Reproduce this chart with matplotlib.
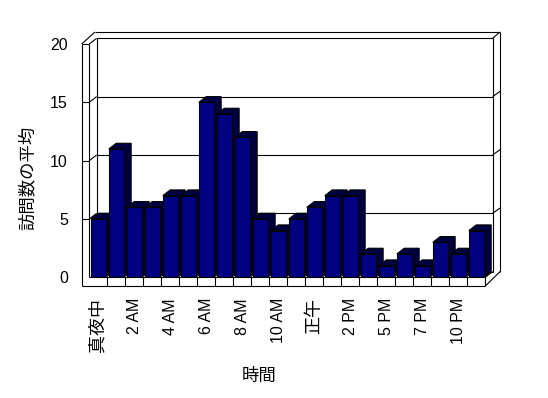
import matplotlib
matplotlib.use('Agg')
import matplotlib.pyplot as plt
from matplotlib.patches import Polygon

plt.rcParams['font.family'] = ['Liberation Sans', 'Noto Sans CJK JP']

# data
hours = ['真夜中', '1 AM', '2 AM', '3 AM', '4 AM', '5 AM', '6 AM', '7 AM', '8 AM', '9 AM',
         '10 AM', '11 AM', '正午', '1 PM', '2 PM', '3 PM', '5 PM', '6 PM', '7 PM', '8 PM',
         '10 PM', '11 PM']
visits = [5, 11, 6, 6, 7, 7, 15, 14, 12, 5, 4, 5, 6, 7, 7, 2, 1, 2, 1, 3, 2, 4]
y_ticks = [0, 5, 10, 15, 20]
x_label = '時間'
y_label = '訪問数の平均'

# 3d look (data units)
DX, DY = 0.41, 0.49      # depth offset front -> back wall
WX, FV = 0.42, 0.75      # left wall / floor thickness
TOP_X = 0.54             # extra height of the outer back frame
FRONT = '#000080'
SHADE = '#000040'
LW = 0.8


def line(ax, xs, ys, z=2):
    ax.plot(xs, ys, color='black', lw=LW, clip_on=False, zorder=z, solid_capstyle='butt')


def main():
    fig = plt.figure(figsize=(5.48, 3.98), dpi=100)
    W, H = 548, 398
    ax = fig.add_axes([89.3 / W, (H - 277.3) / H, 396 / W, 233.3 / H])
    n = len(visits)
    x0, x1 = -0.5, n - 0.5
    top = y_ticks[-1]
    ax.set_xlim(x0, x1)
    ax.set_ylim(0, top)
    ax.patch.set_visible(False)
    for s in ax.spines.values():
        s.set_visible(False)

    # back wall
    ax.add_patch(Polygon([(x0 + DX, DY), (x1 + DX, DY), (x1 + DX, top + DY), (x0 + DX, top + DY)],
                         closed=True, facecolor='white', edgecolor='black', lw=LW,
                         clip_on=False, zorder=1))

    # frame: left wall, top and right edges
    line(ax, [x0 - WX, x0 - WX], [-FV, top])
    line(ax, [x0, x0], [0, top])
    line(ax, [x0 - WX, x0], [top, top])
    line(ax, [x0 - WX, x0 + DX - 0.1], [top, top + DY + TOP_X])
    line(ax, [x0, x0 + DX], [top, top + DY])
    line(ax, [x0 + DX - 0.1, x1 + 2 * DX], [top + DY + TOP_X] * 2)
    line(ax, [x1 + DX, x1 + 2 * DX], [top + DY, top + DY + TOP_X])
    line(ax, [x1 + 2 * DX, x1 + 2 * DX], [DY, top + DY + TOP_X])

    # gridlines
    for v in y_ticks[1:-1]:
        line(ax, [x0 - WX, x0], [v, v])
        line(ax, [x0, x0 + DX], [v, v + DY])
        line(ax, [x0 + DX, x1 + DX], [v + DY, v + DY])
        line(ax, [x1 + DX, x1 + 2 * DX], [v + DY, v + DY + 0.45])

    # floor front band with category dividers
    line(ax, [x0, x1], [0, 0], z=60)
    line(ax, [x0 - WX, x1], [-FV, -FV], z=60)
    for k in range(1, n + 1):
        line(ax, [x0 + k, x0 + k], [-FV, 0], z=60)
    line(ax, [x1, x1 + DX], [0, DY], z=60)
    line(ax, [x1, x1 + 2 * DX], [-FV, DY], z=60)

    # bars: shaded top/side first, front face on top
    width = 0.83
    bars = ax.bar(range(n), visits, width=width, color=FRONT, edgecolor='black', lw=LW)
    for i, (patch, h) in enumerate(zip(bars, visits)):
        l, r = i - width / 2, i + width / 2
        patch.set_zorder(10 + 2 * i + 1)
        ax.add_patch(Polygon([(l, h), (l + DX, h + DY), (r + DX, h + DY), (r + DX, DY), (r, 0), (r, h)],
                             closed=True, facecolor=SHADE, edgecolor='black', lw=LW,
                             zorder=10 + 2 * i, clip_on=False))

    # ticks
    ax.set_yticks(y_ticks)
    ax.tick_params(axis='y', length=0, pad=15.5, labelsize=11.5)
    ax.set_xticks(range(0, n, 2))
    ax.set_xticklabels(hours[::2], rotation=90)
    ax.tick_params(axis='x', length=0, pad=14.9, labelsize=11.5)
    for t in ax.get_xticklabels():
        if any(ord(c) > 127 for c in t.get_text()):
            t.set_fontsize(13)

    fig.text(27 / W, 1 - 177.5 / H, y_label, rotation=90, ha='center', va='center', fontsize=12.5)
    fig.text(259 / W, 1 - 376 / H, x_label, ha='center', va='center', fontsize=12.5)

    fig.savefig('out.png', dpi=100)


if __name__ == "__main__":
    main()
